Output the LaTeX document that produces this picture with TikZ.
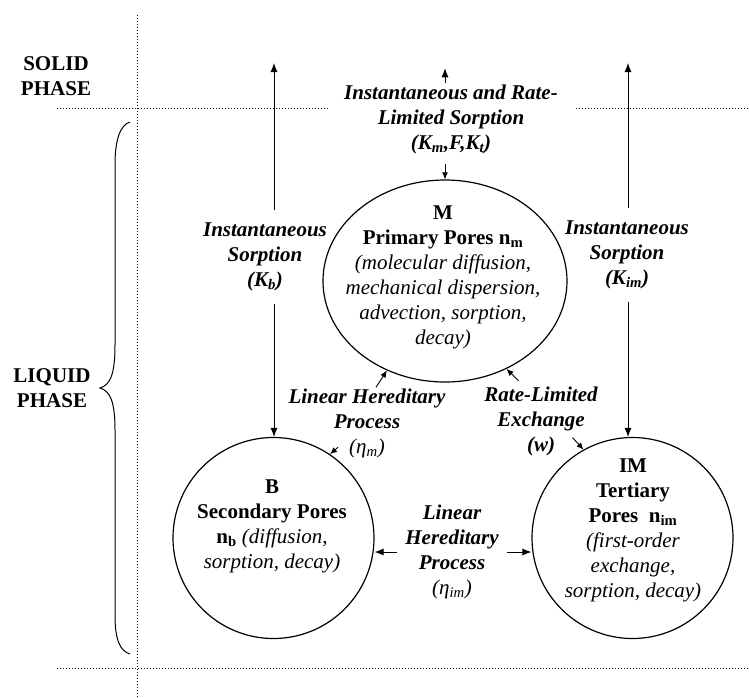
\documentclass[tikz,border=0pt]{standalone}
\usepackage{fontspec}
\setmainfont{Liberation Serif}
\usetikzlibrary{arrows.meta,shapes.geometric}

\newcommand{\txtsize}{\fontsize{21}{25}\selectfont}

\tikzset{
  phase/.style={line width=0.9pt, dash pattern=on 0.9pt off 2.1pt},
  pore/.style={draw, line width=1.2pt, inner sep=0pt},
  flux/.style={line width=0.9pt, -{Latex[length=9pt,width=7pt]}},
  nudge/.style={line width=0.9pt, -{Latex[length=7pt,width=6pt]}},
  lbl/.style={font=\txtsize\bfseries\itshape, align=center},
  ptxt/.style={font=\txtsize, align=center}
}

\begin{document}
\begin{tikzpicture}[x=1pt,y=-1pt]
    \useasboundingbox (0,0) rectangle (749,697);

    % Phase boundaries.
    \draw[phase] (137,15) -- (137,697);
    \draw[phase] (57,108) -- (749,108);
    \draw[phase] (57,668) -- (749,668);

    % Phases.
    \node[ptxt, font=\txtsize\bfseries] (solid)  at (56,76)  {SOLID\\PHASE};
    \node[ptxt, font=\txtsize\bfseries] (liquid) at (52,388) {LIQUID\\PHASE};
    \draw[line width=1pt] (130,122) .. controls (120,125) and (115,140) .. (115,165)
        -- (115,345) .. controls (115,375) and (110,385) .. (100,388)
        .. controls (110,391) and (115,401) .. (115,430)
        -- (115,615) .. controls (115,640) and (120,651) .. (130,654);

    % Pore domains.
    \node[pore, ellipse, minimum width=244, minimum height=202] (M) at (445,281) {};
    \node[pore, circle, minimum size=201] (B)  at (273.5,538) {};
    \node[pore, circle, minimum size=201] (IM) at (632.5,538) {};

    \node[ptxt] (Mtxt) at (443,277) {\textbf{M}\\\textbf{Primary Pores n\textsubscript{m}}\\
        \textit{(molecular diffusion,}\\\textit{mechanical dispersion,}\\
        \textit{advection, sorption,}\\\textit{decay)}};
    \node[ptxt] (Btxt) at (272,526) {\textbf{B}\\\textbf{Secondary Pores}\\
        \textbf{n\textsubscript{b}} \textit{(diffusion,}\\\textit{sorption, decay)}};
    \node[ptxt] (IMtxt) at (633,530) {\textbf{IM}\\\textbf{Tertiary}\\
        \textbf{Pores~~n\textsubscript{im}}\\\textit{(first-order}\\
        \textit{exchange,}\\\textit{sorption, decay)}};

    % Process labels.
    \node[lbl, fill=white, inner xsep=16, inner ysep=1] (KmFKt) at (451,119)
        {Instantaneous and Rate-\\Limited Sorption\\(K\textsubscript{m},F,K\textsubscript{t})};
    \node[lbl, inner ysep=13] (Kb)  at (265,257) {Instantaneous\\Sorption\\(K\textsubscript{b})};
    \node[lbl, inner ysep=13] (Kim) at (627,255) {Instantaneous\\Sorption\\(K\textsubscript{im})};
    \node[lbl] (etaM) at (367,423) {Linear Hereditary\\Process\\{\mdseries(η\textsubscript{m})}};
    \node[lbl] (w)    at (541,421) {Rate-Limited\\Exchange\\(w)};
    \node[lbl, inner xsep=8] (etaIm) at (452,552)
        {Linear\\Hereditary\\Process\\{\mdseries(η\textsubscript{im})}};

    % Sorption arrows.
    \coordinate (bTop)  at (274,63);
    \coordinate (imTop) at (628,63);
    \draw[flux] (Kb.north -| bTop)   -- (bTop);
    \draw[flux] (Kb.south -| bTop)   -- (bTop |- B.north);
    \draw[flux] (Kim.north -| imTop) -- (imTop);
    \draw[flux] (Kim.south -| imTop) -- (imTop |- IM.north);
    \draw[flux] (KmFKt.north -| M.north) -- ++(0,-15);
    \draw[nudge] ([yshift=15pt]M.north) -- (M.north);

    % Exchange arrows.
    \draw[nudge] ([shift={(-11,17)}]M.237) -- (M.237);
    \draw[nudge] ([shift={(12,12)}]M.305)  -- (M.305);
    \draw[nudge] ([shift={(8,-7)}]B.56)    -- (B.56);
    \draw[nudge] ([shift={(-11,-12)}]IM.119) -- (IM.119);
    \draw[flux] (etaIm.west) -- (etaIm.west -| B.east);
    \draw[flux] (etaIm.east) -- (etaIm.east -| IM.west);

\end{tikzpicture}
\end{document}
